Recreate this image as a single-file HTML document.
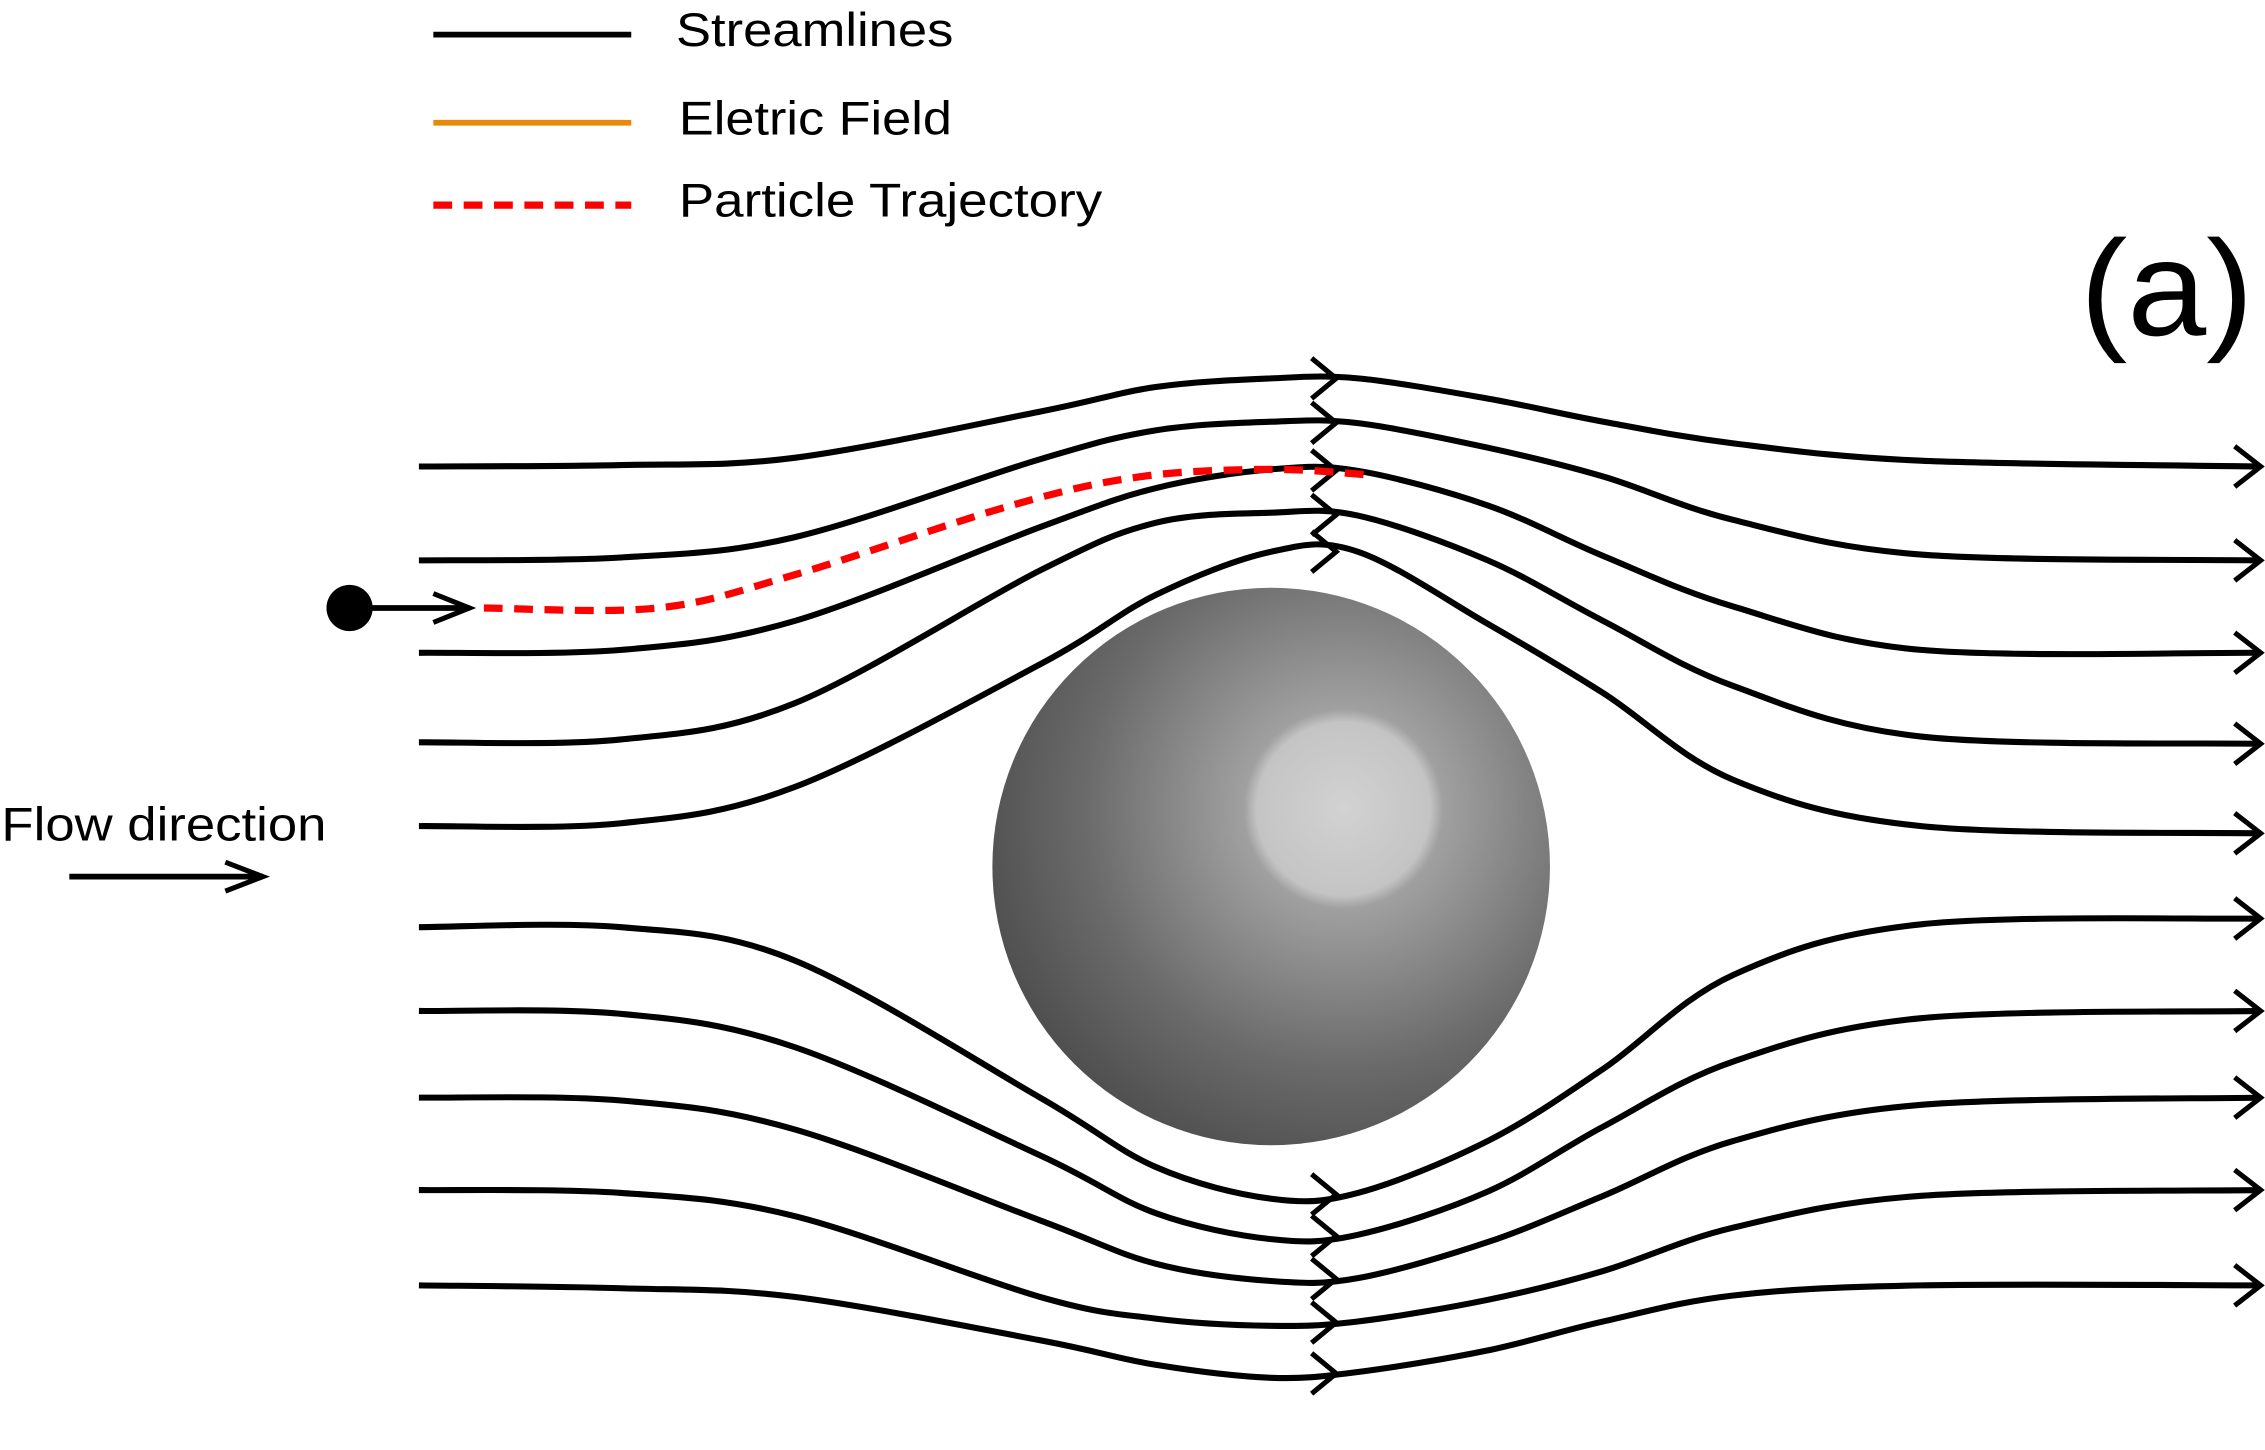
<!DOCTYPE html>
<html><head><meta charset="utf-8"><style>
html,body{margin:0;padding:0;background:#fff;}
svg{display:block;}
text{font-family:"Liberation Sans",Arial,sans-serif;fill:#000;}
</style></head><body>
<svg id="fig" width="2265" height="1450" viewBox="0 0 1568 1004" preserveAspectRatio="none">
<defs>
<radialGradient id="sph" cx="930" cy="560" r="300" gradientUnits="userSpaceOnUse">
<stop offset="0" stop-color="#d2d2d2"/><stop offset="0.2" stop-color="#c4c4c4"/><stop offset="0.23" stop-color="#a0a0a0"/><stop offset="0.6" stop-color="#6a6a6a"/><stop offset="1" stop-color="#404040"/>
</radialGradient>
</defs>
<g id="legend">
<line x1="300" y1="24" x2="437" y2="24" stroke="#000" stroke-width="4"/>
<text x="468" y="32" font-size="33" textLength="192" lengthAdjust="spacingAndGlyphs">Streamlines</text>
<line x1="300" y1="85" x2="437" y2="85" stroke="#e8890a" stroke-width="4"/>
<text x="470" y="93" font-size="33" textLength="189" lengthAdjust="spacingAndGlyphs">Eletric Field</text>
<line x1="300" y1="142" x2="437" y2="142" stroke="#f00" stroke-width="5" stroke-dasharray="13,8"/>
<text x="470" y="150" font-size="33" textLength="293" lengthAdjust="spacingAndGlyphs">Particle Trajectory</text>
</g>
<text x="1440" y="232" font-size="94" textLength="120" lengthAdjust="spacingAndGlyphs">(a)</text>
<text x="1" y="582" font-size="33" textLength="225" lengthAdjust="spacingAndGlyphs">Flow direction</text>
<g>
<line x1="48" y1="607" x2="182" y2="607" stroke="#000" stroke-width="4"/>
<polyline points="156,597 182,607 156,617" fill="none" stroke="#000" stroke-width="3.5"/>
</g>
<circle cx="880" cy="600" r="193" fill="url(#sph)"/>
<g id="lines"></g>
<g>
<circle cx="242" cy="421" r="16" fill="#000"/>
<line x1="242" y1="421" x2="325" y2="421" stroke="#000" stroke-width="4"/>
<polyline points="300,411 325,421 300,431" fill="none" stroke="#000" stroke-width="3.5"/>
</g>
<g id="traj"></g>
</svg>
<script>
const lineXs=[290,430,550,720,800,880,940,1030,1110,1200,1330,1565];
const streamYs=[
[323,322,317,285,268,262,262,276,292,307,319,323],
[388,386,372,318,298,292,293,310,330,360,384,388],
[452,450,430,365,338,325,326,350,385,420,450,452],
[514,512,487,395,362,355,357,388,430,475,510,515],
[572,570,545,460,412,382,382,432,480,540,572,577],
[642,642,665,760,808,830,826,790,740,675,640,636],
[700,702,725,800,840,858,855,825,780,735,705,700],
[760,762,782,845,875,887,885,860,828,790,765,760],
[824,826,842,898,913,918,915,900,880,850,828,824],
[890,892,898,928,945,954,950,935,915,897,890,890]];
const trajX=[335,455,550,700,790,880,950];
const trajY=[421,421,398,350,330,325,329];
const NS="http://www.w3.org/2000/svg";
function smooth(xs,ys){
  let d="M"+xs[0]+","+ys[0];
  for(let i=0;i<xs.length-1;i++){
    const x0=xs[Math.max(i-1,0)],y0=ys[Math.max(i-1,0)],x1=xs[i],y1=ys[i],x2=xs[i+1],y2=ys[i+1];
    const x3=xs[Math.min(i+2,xs.length-1)],y3=ys[Math.min(i+2,ys.length-1)];
    d+=" C"+(x1+(x2-x0)/6)+","+(y1+(y2-y0)/6)+" "+(x2-(x3-x1)/6)+","+(y2-(y3-y1)/6)+" "+x2+","+y2;
  }
  return d;
}
function interpY(ys,x){
  for(let i=0;i<lineXs.length-1;i++){if(x>=lineXs[i]&&x<=lineXs[i+1]){const t=(x-lineXs[i])/(lineXs[i+1]-lineXs[i]);return ys[i]+t*(ys[i+1]-ys[i]);}}
  return ys[ys.length-1];
}
const g=document.getElementById("lines");
streamYs.forEach((ys,k)=>{
  const p=document.createElementNS(NS,"path");
  p.setAttribute("d",smooth(lineXs,ys));
  p.setAttribute("fill","none");p.setAttribute("stroke","#000");p.setAttribute("stroke-width","4.2");
  
  
  g.appendChild(p);
  const xe=lineXs[lineXs.length-1],ye=ys[ys.length-1];
  const a=document.createElementNS(NS,"polyline");
  a.setAttribute("points",(xe-18)+","+(ye-14)+" "+xe+","+ye+" "+(xe-18)+","+(ye+14));
  a.setAttribute("fill","none");a.setAttribute("stroke","#000");a.setAttribute("stroke-width","3.5");
  
  
  g.appendChild(a);
  const ym=interpY(ys,925);
  const m=document.createElementNS(NS,"polyline");
  m.setAttribute("points","908,"+(ym-14)+" 925,"+ym+" 908,"+(ym+14));
  m.setAttribute("fill","none");m.setAttribute("stroke","#000");m.setAttribute("stroke-width","3.5");
  
  
  g.appendChild(m);
});
const tg=document.getElementById("traj");
const tp=document.createElementNS(NS,"path");
tp.setAttribute("d",smooth(trajX,trajY));
tp.setAttribute("fill","none");tp.setAttribute("stroke","#f00");tp.setAttribute("stroke-width","5");tp.setAttribute("stroke-dasharray","13,8");


tg.appendChild(tp);
</script>
</body></html>
